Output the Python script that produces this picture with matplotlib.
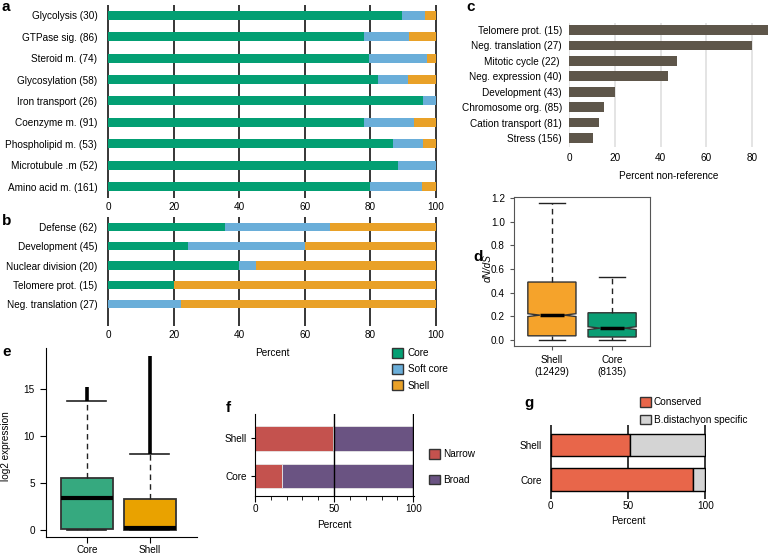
import numpy as np
import matplotlib
matplotlib.use("Agg")
import matplotlib.pyplot as plt
from matplotlib.patches import Patch

plt.rcParams['font.family'] = ['Liberation Sans', 'DejaVu Sans']
plt.rcParams['font.size'] = 7.2

# ---- data ----
a_cats = ['Glycolysis (30)', 'GTPase sig. (86)', 'Steroid m. (74)', 'Glycosylation (58)',
          'Iron transport (26)', 'Coenzyme m. (91)', 'Phospholipid m. (53)',
          'Microtubule .m (52)', 'Amino acid m. (161)']
a_core = [89.8, 78.0, 79.7, 82.5, 96.0, 78.0, 86.9, 88.5, 79.9]
a_soft = [6.9, 13.7, 17.6, 8.9, 4.0, 15.4, 9.1, 11.5, 15.9]
a_shell = [3.3, 8.3, 2.7, 8.6, 0.0, 6.6, 4.0, 0.0, 4.2]

b_cats = ['Defense (62)', 'Development (45)', 'Nuclear division (20)',
          'Telomere prot. (15)', 'Neg. translation (27)']
b_core = [35.5, 24.4, 40.0, 20.0, 0.0]
b_soft = [32.2, 35.6, 5.0, 0.0, 22.2]
b_shell = [32.3, 40.0, 55.0, 80.0, 77.8]

c_cats = ['Telomere prot. (15)', 'Neg. translation (27)', 'Mitotic cycle (22) ',
          'Neg. expression (40)', 'Development (43)', 'Chromosome org. (85)',
          'Cation transport (81)', 'Stress (156)']
c_vals = [86.7, 80.0, 47.0, 43.3, 20.0, 15.3, 13.1, 10.5]

d_labels = ['Shell\n(12429)', 'Core\n(8135)']
d_q1 = [0.035, 0.025]
d_med = [0.21, 0.10]
d_q3 = [0.49, 0.23]
d_lo = [0.0, 0.0]
d_hi = [1.16, 0.53]

e_labels = ['Core', 'Shell']
e_q1 = [0.10, 0.02]
e_med = [3.43, 0.18]
e_q3 = [5.56, 3.26]
e_lo = [0.0, 0.0]
e_hi = [13.65, 8.05]
e_flier_lo = [13.65, 8.05]
e_flier_hi = [15.2, 18.5]

f_cats = ['Shell', 'Core']
f_narrow = [49.0, 16.8]
f_broad = [51.0, 83.2]

g_cats = ['Shell', 'Core']
g_cons = [51.3, 92.0]
g_spec = [48.7, 8.0]

C_CORE, C_SOFT, C_SHELL = '#039f73', '#6aaed9', '#e9a128'

W, H = 769, 555
fig = plt.figure(figsize=(W / 100, H / 100), dpi=100)


def rect(l, t, r, b):
    return [l / W, 1 - b / H, (r - l) / W, (b - t) / H]


def plabel(x, y, s):
    fig.text(x / W, 1 - y / H, s, fontsize=11, fontweight='bold', va='center', ha='left')


def stacked(ax, cats, core, soft, shell, ymax, ymin):
    y = np.arange(len(cats))
    ax.barh(y, core, height=0.42, color=C_CORE, zorder=2)
    ax.barh(y, soft, left=core, height=0.42, color=C_SOFT, zorder=2)
    left = np.array(core) + np.array(soft)
    ax.barh(y, shell, left=left, height=0.42, color=C_SHELL, zorder=2)
    ax.set_yticks(y)
    ax.set_yticklabels(cats)
    ax.set_ylim(ymax, ymin)
    ax.set_xlim(-0.4, 100.4)
    ax.set_xticks(range(0, 101, 20))
    ax.grid(axis='x', color='black', lw=1.1, zorder=0)
    for s in ax.spines.values():
        s.set_visible(False)
    ax.tick_params(axis='y', length=0, pad=7)
    ax.tick_params(axis='x', length=4, width=1.1, pad=3)


# ---- a ----
ax = fig.add_axes(rect(107, 5, 437, 192))
stacked(ax, a_cats, a_core, a_soft, a_shell, 8.25, -0.48)
plabel(2, 7, 'a')

# ---- b ----
ax = fig.add_axes(rect(107, 217, 437, 320))
stacked(ax, b_cats, b_core, b_soft, b_shell, 4.83, -0.52)
ax.set_xlabel('Percent', labelpad=6)
plabel(2, 221, 'b')

fig.legend(handles=[Patch(facecolor=C_CORE, edgecolor='#333333', label='Core'),
                    Patch(facecolor=C_SOFT, edgecolor='#333333', label='Soft core'),
                    Patch(facecolor=C_SHELL, edgecolor='#333333', label='Shell')],
           loc='upper left', bbox_to_anchor=(388 / W, 1 - 344 / H), frameon=False,
           handlelength=1.1, handleheight=1.1, handletextpad=0.5, labelspacing=0.6,
           borderaxespad=0, fontsize=7.2)

# ---- c ----
ax = fig.add_axes(rect(569, 23, 769, 147))
y = np.arange(len(c_cats))
ax.barh(y, c_vals, height=0.62, color='#5e564a', zorder=2)
ax.set_yticks(y)
ax.set_yticklabels(c_cats)
ax.set_ylim(len(c_cats) - 1 + 0.58, -0.45)
ax.set_xlim(0, 87.3)
ax.set_xticks(range(0, 81, 20))
ax.grid(axis='x', color='#dcdcdc', lw=1.1, zorder=0)
for s in ax.spines.values():
    s.set_visible(False)
ax.tick_params(axis='y', length=0, pad=5)
ax.tick_params(axis='x', length=0, pad=4)
ax.set_xlabel('Percent non-reference', labelpad=6)
plabel(466, 7, 'c')

# ---- d ----
ax = fig.add_axes(rect(514, 197, 650, 346))
stats = []
for i in range(2):
    stats.append(dict(med=d_med[i], q1=d_q1[i], q3=d_q3[i], whislo=d_lo[i], whishi=d_hi[i],
                      cilo=d_med[i] - 0.012, cihi=d_med[i] + 0.012, fliers=[], label=d_labels[i]))
bp = ax.bxp(stats, positions=[1, 2], widths=0.8, shownotches=True, patch_artist=True,
            capwidths=0.42,
            boxprops=dict(edgecolor='#333333', lw=1),
            medianprops=dict(color='black', lw=2.5),
            whiskerprops=dict(color='#222222', lw=1, ls=(0, (4, 3))),
            capprops=dict(color='#222222', lw=1))
for patch, c in zip(bp['boxes'], ['#f5a32b', '#0a9e74']):
    patch.set_facecolor(c)
ax.set_xlim(0.37, 2.63)
ax.set_ylim(-0.051, 1.209)
ax.set_yticks([0.0, 0.2, 0.4, 0.6, 0.8, 1.0, 1.2])
ax.set_yticklabels(['0.0', '0.2', '0.4', '0.6', '0.8', '1.0', '1.2'])
for s in ax.spines.values():
    s.set_color('#555555')
ax.tick_params(length=3, color='#555555')
ax.set_ylabel('dN/dS', style='italic')
ax.yaxis.set_label_coords(-0.16, 0.52)
plabel(473, 257, 'd')

# ---- e ----
ax = fig.add_axes(rect(46, 348, 197, 537))
stats = []
for i in range(2):
    stats.append(dict(med=e_med[i], q1=e_q1[i], q3=e_q3[i], whislo=e_lo[i], whishi=e_hi[i],
                      fliers=[], label=e_labels[i]))
bp = ax.bxp(stats, positions=[1, 2], widths=0.82, patch_artist=True, capwidths=0.62,
            boxprops=dict(edgecolor='#333333', lw=1.3),
            medianprops=dict(color='black', lw=3),
            whiskerprops=dict(color='#222222', lw=1, ls=(0, (4, 3))),
            capprops=dict(color='#222222', lw=1.2))
for patch, c in zip(bp['boxes'], ['#36a97f', '#e9a200']):
    patch.set_facecolor(c)
ax.vlines([1, 2], e_flier_lo, e_flier_hi, color='black', lw=2.6, zorder=3)
ax.set_xlim(0.35, 2.75)
ax.set_ylim(-0.74, 19.3)
ax.set_yticks([0, 5, 10, 15])
ax.spines['top'].set_visible(False)
ax.spines['right'].set_visible(False)
ax.tick_params(axis='y', length=4, pad=4)
ax.tick_params(axis='x', length=4, pad=2)
ax.set_ylabel('log2 expression')
ax.yaxis.set_label_coords(-0.235, 0.48)
plabel(2, 352, 'e')

# ---- f ----
ax = fig.add_axes(rect(255, 414, 414, 496))
y = np.arange(len(f_cats))
ax.barh(y, f_narrow, height=0.65, color='#c4524e', edgecolor='#e6e6e6', lw=0.6, zorder=2)
ax.barh(y, f_broad, left=f_narrow, height=0.65, color='#6a5382', edgecolor='#e6e6e6', lw=0.6, zorder=2)
ax.axvline(50, color='black', lw=1, zorder=3)
ax.axvline(100, color='black', lw=1, zorder=3)
ax.set_yticks(y)
ax.set_yticklabels(f_cats)
ax.set_ylim(1.54, -0.65)
ax.set_xlim(0, 100.5)
ax.set_xticks([0, 50, 100])
ax.set_xticks(range(0, 101, 10), minor=True)
ax.spines['top'].set_visible(False)
ax.spines['right'].set_visible(False)
ax.tick_params(axis='y', length=3, pad=3)
ax.tick_params(axis='x', which='major', length=4, pad=2)
ax.tick_params(axis='x', which='minor', length=3)
ax.set_xlabel('Percent', labelpad=4)
fig.legend(handles=[Patch(facecolor='#c4524e', edgecolor='#333333', label='Narrow'),
                    Patch(facecolor='#6a5382', edgecolor='#333333', label='Broad')],
           loc='upper left', bbox_to_anchor=(425 / W, 1 - 445 / H), frameon=False,
           handlelength=1.1, handleheight=1.1, handletextpad=0.3, labelspacing=1.55,
           borderaxespad=0, fontsize=7.2)
plabel(226, 408, 'f')

# ---- g ----
ax = fig.add_axes(rect(550, 425, 706, 493))
y = np.arange(len(g_cats))
ax.barh(y, g_cons, height=0.65, color='#e8664a', edgecolor='black', lw=1, zorder=2)
ax.barh(y, g_spec, left=g_cons, height=0.65, color='#d4d4d4', edgecolor='black', lw=1, zorder=2)
ax.set_yticks(y)
ax.set_yticklabels(g_cats)
ax.set_ylim(1.39, -0.58)
ax.set_xlim(-0.4, 100.4)
ax.set_xticks([0, 50, 100])
ax.grid(axis='x', color='black', lw=1.1, zorder=0)
for s in ax.spines.values():
    s.set_visible(False)
ax.tick_params(axis='y', length=0, pad=6)
ax.tick_params(axis='x', length=4, width=1.1, pad=2)
ax.set_xlabel('Percent', labelpad=3)
fig.legend(handles=[Patch(facecolor='#e8664a', edgecolor='#333333', label='Conserved'),
                    Patch(facecolor='#d4d4d4', edgecolor='#333333', label='B.distachyon specific')],
           loc='upper left', bbox_to_anchor=(636 / W, 1 - 393 / H), frameon=False,
           handlelength=1.1, handleheight=1.1, handletextpad=0.3, labelspacing=0.75,
           borderaxespad=0, fontsize=7.2)
plabel(524, 403, 'g')

fig.savefig('out.png', dpi=100)
